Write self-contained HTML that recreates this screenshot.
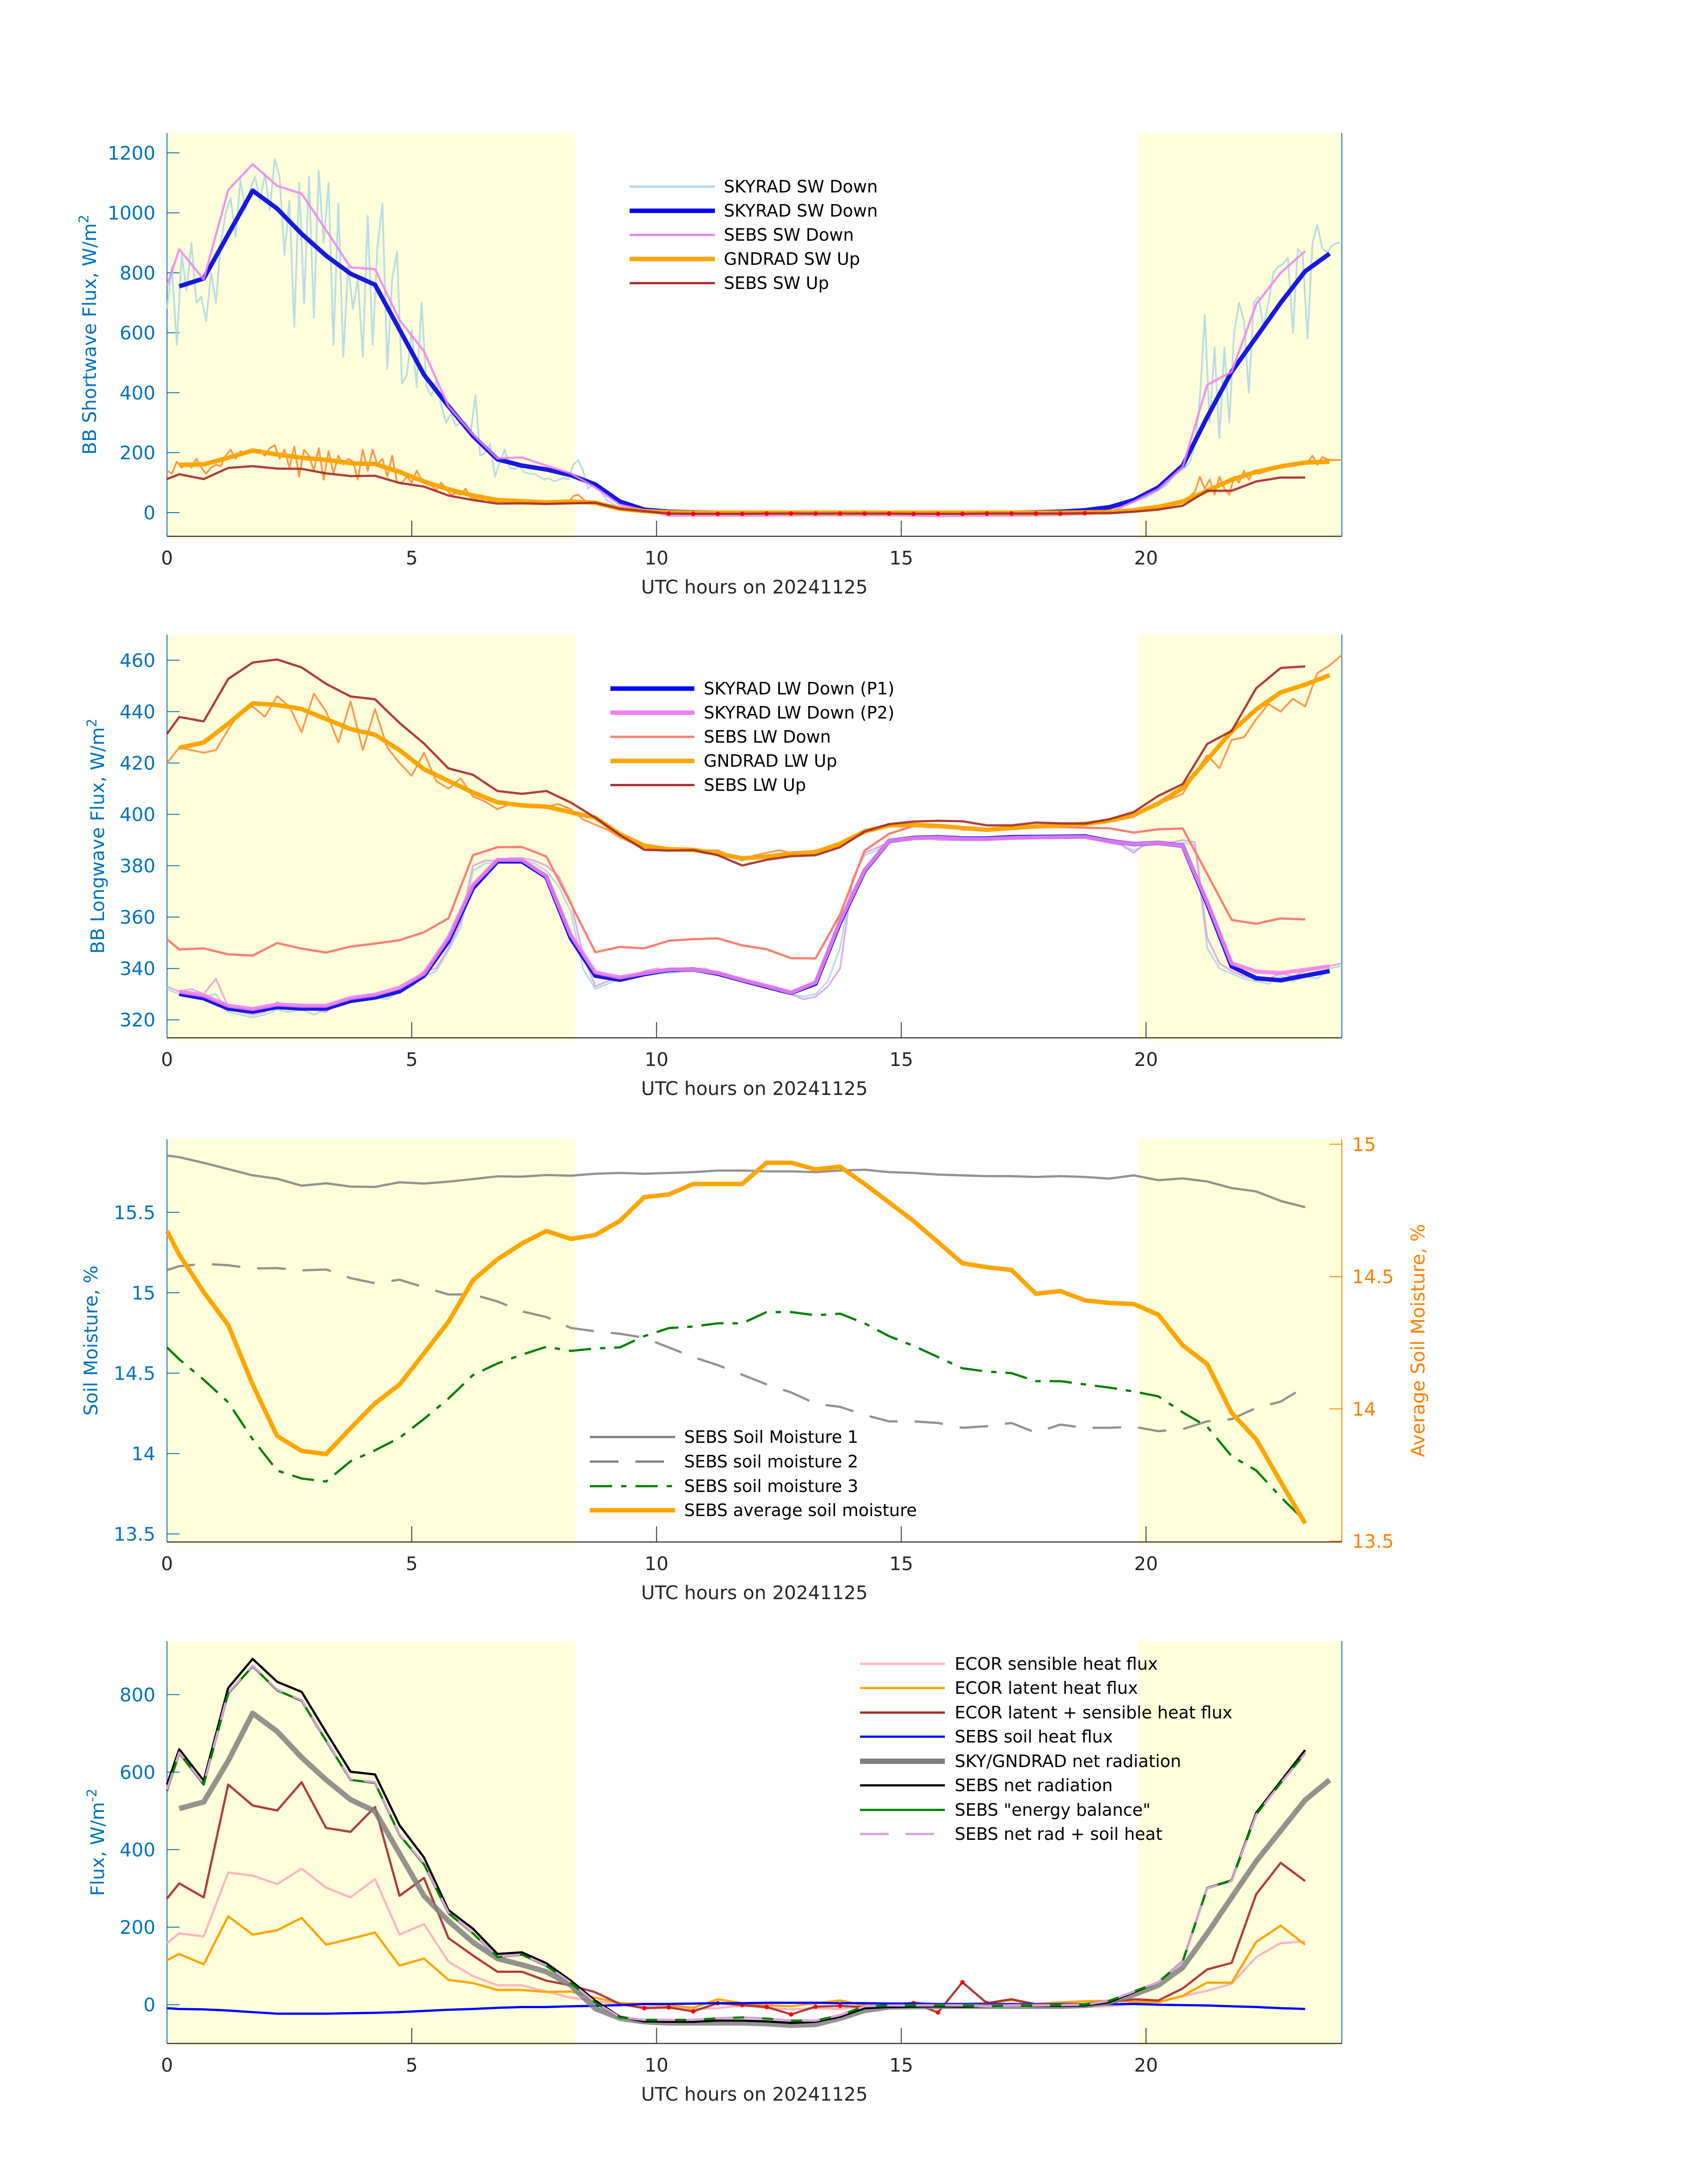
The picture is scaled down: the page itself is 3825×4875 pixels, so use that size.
<!DOCTYPE html>
<html><head><meta charset="utf-8">
<style>
html,body{margin:0;padding:0;background:#fff;}
svg{display:block;font-family:"DejaVu Sans","Liberation Sans",sans-serif;}
</style></head>
<body>
<svg id="chart" xmlns="http://www.w3.org/2000/svg" width="3825" height="4875" viewBox="0 0 3825 4875"></svg>
<script>
// ---------- shared time grids (hours UTC) ----------
function range(a,b,s){const r=[];for(let v=a;v<=b+1e-9;v+=s)r.push(Math.round(v*100)/100);return r;}
const tSebs=[0].concat(range(0.25,23.25,0.5));
const tSky=range(0.25,23.75,0.5);
const tQ=range(0,24,0.25);
const tSwA=range(0,9,0.1), tSwC=range(20,24,0.1);
const tSwB=[9.2,9.5,10,12,15,19,19.5,19.7];
const tUpB=[9.3,9.7,10,19,19.5];
const dayBands=[[0,8.34],[19.84,24]];

// ---------- panel 1: shortwave ----------
const skySwNoisy=[680,820,560,860,740,900,700,720,640,800,700,900,1000,1050,920,1110,1010,1080,1120,1040,1130,1010,1180,1120,860,1040,620,1100,700,1120,650,1140,900,1100,560,1030,520,820,680,780,520,990,560,890,1030,480,780,870,430,460,610,420,700,420,390,440,360,300,330,290,300,300,260,390,190,200,230,120,170,210,150,145,155,135,130,130,120,110,115,105,110,115,110,160,175,140,80,95,90,60,40]
 .concat([20,8,2,1,1,2,20,40])
 .concat([50,60,70,80,90,110,130,140,150,170,230,380,660,300,550,250,550,300,600,700,640,400,700,720,620,700,800,820,830,850,600,880,860,580,900,960,880,870,890,900,900]);
const tSwNoisy=tSwA.concat(tSwB,tSwC);
const skySwDown=[755,781,928,1074,1014,930,857,797,760,611,460,355,256,178,157,144,125,94,37,10,3,1,0,0,0,0,0,0,0,0,0,0,0,0,0,1,3,8,18,42,84,157,319,470,585,700,805,864];
const sebsSwDown=[757,878,778,1076,1162,1090,1064,942,818,812,643,538,355,261,181,184,157,131,84,26,8,-10,-10,-10,-10,-10,-9,-9,-9,-9,-9,-10,-12,-11,-10,-10,-9,-8,-5,0,37,78,152,426,470,695,800,872];
const gndSwNoisy=[140,130,170,150,165,150,180,150,130,150,160,155,190,210,180,205,195,200,205,210,190,215,225,180,210,150,220,120,210,190,140,215,110,205,130,190,160,180,170,110,210,140,210,160,180,120,190,100,100,120,100,140,110,95,90,75,100,80,60,65,60,80,50,45,40,45,40,35,40,35,35,38,40,37,35,36,38,37,35,34,35,36,35,55,60,45,35,33,32,28,20]
 .concat([8,2,0,0,5])
 .concat([15,17,20,24,28,30,35,40,45,55,70,120,80,110,60,120,80,60,120,100,140,110,140,130,135,140,145,150,150,155,158,160,162,165,190,160,185,178,175,176,175]);
const tUpNoisy=tSwA.concat(tUpB,tSwC);
const gndSwUp=[159,161,183,207,194,183,176,165,162,136,104,78,57,42,38,34,37,33,13,5,1,0,0,0,0,0,0,0,0,0,0,0,0,0,0,0,0,1,2,8,19,37,73,110,136,154,167,170];
const sebsSwUp=[112,128,112,149,155,147,146,131,122,123,99,87,57,42,30,31,29,31,33,13,5,-3,-4,-4,-4,-3,-3,-3,-3,-3,-3,-4,-4,-4,-3,-3,-3,-3,-2,-2,3,10,23,73,73,104,117,117];
const p1Ticks=[0,200,400,600,800,1000,1200];

// ---------- panel 2: longwave ----------
const lwNoisyA=[332,330,331,329,330,323,322,321,322,324,323,324,322,324,326,327,328,329,328,331,333,337,339,347,356,378,381,381,382,382,381,378,372,362,340,332,334,336,336,338,339,338,339,340,339,338,336,335,334,333,331,330,329,330,335,348,375,384,386,389,390,391,391,391,390,390,390,390,391,391,391,391,391,391,391,391,390,389,388,386,388,389,388,389,388,348,340,338,336,335,334,337,335,337,336,340,341];
const lwNoisyB=[333,331,332,330,336,325,323,322,323,327,324,326,324,323,327,328,329,330,329,332,334,339,340,348,358,380,382,382,383,383,382,380,376,366,345,333,335,337,337,339,340,339,339,340,340,338,337,335,334,333,331,330,328,329,333,340,374,385,387,389,390,391,391,390,390,390,390,390,391,391,391,391,391,391,391,391,390,389,388,385,389,389,389,390,389,352,342,339,337,336,336,338,337,339,340,341,342];
const skyLwP1=[330.1,328.4,324.4,323.2,325.0,324.4,324.4,327.4,328.7,331.1,337.2,350.6,371.3,381.7,381.7,375.6,351.8,337.2,335.6,337.8,339.4,339.6,338.0,335.4,332.9,330.5,334.1,357.9,378.0,389.6,390.8,391.1,390.6,390.6,391.1,391.2,391.3,391.4,389.6,388.4,388.9,387.8,365.2,340.8,336.2,335.4,337.2,339.0];
const skyLwP2=[331,329.5,325.5,324.2,326,325.5,325.5,328.5,329.8,332.5,338,352,372.5,382.3,382.3,376,353,338.5,336.5,338.2,339.6,339.6,338.3,335.6,333.2,330.6,334.6,358.5,378.3,389.6,390.7,391,390.4,390.4,390.8,391,391.1,391.2,389.5,388.4,388.9,387.8,366,342,338.8,338.2,339.5,340.8];
const sebsLwDown=[351.4,347.4,347.8,345.5,345.0,349.9,347.7,346.2,348.5,349.7,351.0,354.1,359.5,384.1,387.2,387.3,383.6,365.2,346.3,348.4,347.8,350.8,351.4,351.7,349.0,347.5,344.0,343.9,361.0,385.9,392.4,395.5,395.2,394.5,394.1,394.5,395.0,395.1,394.8,394.6,392.9,394.2,394.5,376.8,358.9,357.4,359.5,359.1];
const gndLwNoisy=[420,426,425,424,425,433,440,442,438,446,442,432,447,440,428,444,425,441,426,420,415,424,413,410,414,407,405,402,404,403,403,403,404,402,398,396,394,391,389,386,386,386,386,386,386,386,384,382,384,385,386,385,384,386,387,388,391,394,395,396,396,396,395,395,395,394,394,394,394,395,395,395,395,395,396,396,396.5,397,398,399,402,404,406,408,416,423,418,429,430,437,443,440,445,442,455,458,462];
const gndLwUp=[425.9,428.0,435.3,443.2,442.6,441.0,437.1,433.2,431.0,425.0,417.6,413.0,408.5,404.7,403.5,403.0,400.8,398.7,392.3,387.8,386.4,386.2,384.7,382.9,383.5,384.7,385.3,388.6,393.3,395.7,395.9,395.5,394.7,394.0,394.7,395.3,395.7,396.3,397.5,399.8,404.2,410.3,421.3,432.3,440.8,447.5,450.5,454.2];
const sebsLwUp=[431.3,437.9,436.2,452.7,459.1,460.3,457.2,450.8,445.9,444.8,435.6,427.6,417.9,415.4,409.1,408.0,409.1,404.6,398.7,392.0,386.3,385.9,386.1,384.1,380.1,382.3,383.7,384.1,387.2,393.3,396.2,397.2,397.5,397.3,395.7,395.7,396.8,396.5,396.4,398.1,400.9,407.2,411.8,427.4,432.5,449.1,457.0,457.6];
const p2Ticks=[320,340,360,380,400,420,440,460];

// ---------- panel 3: soil moisture ----------
const sm1=[15.853,15.843,15.808,15.769,15.730,15.709,15.666,15.681,15.660,15.658,15.687,15.679,15.691,15.707,15.724,15.722,15.732,15.728,15.74,15.745,15.74,15.745,15.75,15.76,15.76,15.755,15.755,15.75,15.76,15.765,15.75,15.745,15.735,15.73,15.725,15.725,15.72,15.725,15.72,15.71,15.73,15.70,15.711,15.692,15.651,15.63,15.571,15.532];
const sm2=[15.141,15.165,15.180,15.171,15.151,15.153,15.139,15.145,15.091,15.059,15.081,15.034,14.989,14.989,14.946,14.884,14.849,14.781,14.76,14.745,14.72,14.66,14.6,14.55,14.49,14.43,14.38,14.31,14.29,14.24,14.2,14.2,14.19,14.16,14.17,14.19,14.13,14.18,14.16,14.16,14.167,14.139,14.152,14.2,14.214,14.284,14.323,14.415];
const sm3=[14.66,14.586,14.459,14.319,14.089,13.894,13.845,13.826,13.952,14.02,14.098,14.215,14.342,14.488,14.56,14.615,14.664,14.638,14.654,14.66,14.73,14.78,14.79,14.81,14.81,14.88,14.88,14.86,14.87,14.81,14.73,14.67,14.6,14.53,14.51,14.5,14.45,14.45,14.43,14.41,14.386,14.356,14.256,14.167,13.983,13.895,13.73,13.58];
const smAvg=[14.672,14.583,14.441,14.317,14.092,13.897,13.841,13.829,13.927,14.021,14.092,14.21,14.329,14.486,14.565,14.625,14.672,14.642,14.657,14.71,14.80,14.81,14.85,14.85,14.85,14.93,14.93,14.905,14.915,14.85,14.78,14.71,14.63,14.55,14.535,14.525,14.435,14.445,14.41,14.40,14.396,14.356,14.24,14.169,13.985,13.885,13.725,13.567];
const p3Ticks=[13.5,14,14.5,15,15.5];
const p3TickLabels=["13.5","14","14.5","15","15.5"];
const p3RTicks=[13.5,14,14.5,15];
const p3RTickLabels=["13.5","14","14.5","15"];

// ---------- panel 4: energy flux ----------
const ecorSens=[159,184,176,341,333,311,351,302,277,324,181,208,111,74,50,50,34,18,10,-1,-4,-6,-11,-9,-2,-8,-12,-9,-11,-4,-4,-4,-6,-5,-4,-1,-2,-6,-6,-4,4,7,22,36,54,123,159,163];
const ecorLat=[115,131,104,228,181,192,224,155,170,186,101,119,64,56,38,38,33,34,18,4,2,-1,-8,14,4,-1,-4,4,11,-2,-4,6,-2,2,4,12,2,6,9,10,8,6,23,57,57,162,204,155];
const ecorLS=[274,313,277,568,514,501,574,456,446,510,281,327,172,127,85,85,62,50,32,2,-9,-7,-17,4,-1,-6,-25,-5,-3,-6,-2,4,-20,58,4,14,1,2,2,7,14,11,42,91,108,285,366,319];
const soilHeat=[-9,-11,-12,-15,-19,-23,-23,-23,-22,-21,-19,-16,-13,-11,-8,-6,-6,-4,-3,-1,2,2,3,4,4,5,5,5,4,4,3,3,2,2,2,2,1,1,1,1,2,0,-1,-2,-4,-6,-9,-11];
const skyNet=[506,523,629,752,705,638,580,529,499,390,281,216,161,119,103,85,50,-10,-35,-44,-47,-47,-47,-47,-49,-53,-51,-35,-15,-6,-5,-4,-4,-4,-4,-4,-4,-2,6,26,50,96,184,277,370,449,528,580];
const sebsNet=[568,659,578,817,892,833,807,703,601,594,463,380,244,196,131,135,107,62,10,-31,-43,-44,-44,-41,-41,-43,-47,-44,-31,-9,-6,-5,-4,-5,-4,-2,-3,-3,-2,7,32,58,112,301,321,495,576,657];
const sebsEB=[552,649,568,803,873,811,784,681,580,572,438,362,236,184,123,129,100,56,5,-33,-39,-39,-39,-35,-33,-36,-41,-41,-27,-4,-2,-2,-2,-2,-4,-2,-2,-1,0,10,34,58,111,301,320,491,572,649];
const sebsNetSoil=[555,651,570,805,875,813,786,683,582,574,440,364,238,185,124,130,101,57,6,-32,-39,-39,-39,-35,-33,-36,-41,-41,-27,-4,-2,-2,-2,-2,-4,-2,-2,-1,0,10,34,58,111,300,319,490,571,648];
const p4Ticks=[0,200,400,600,800];

// ---------- drawing ----------
const svg=document.getElementById('chart');
const NS='http://www.w3.org/2000/svg';
const AX_L=374, AX_R=3005, XMAX=24;
function X(h){return AX_L+h*(AX_R-AX_L)/XMAX;}
function mk(tag,attrs,parent){const e=document.createElementNS(NS,tag);for(const k in attrs)e.setAttribute(k,attrs[k]);(parent||svg).appendChild(e);return e;}
function yScale(top,bot,lo,hi){return v=>bot-(v-lo)*(bot-top)/(hi-lo);}

function line(g,ts,vs,Y,style,name){
  let d='';for(let i=0;i<ts.length&&i<vs.length;i++){d+=(i?'L':'M')+X(ts[i]).toFixed(1)+' '+Y(vs[i]).toFixed(1);}
  const p=mk('path',Object.assign({d:d,fill:'none','stroke-linejoin':'round','stroke-linecap':'butt'},style),g);
  
  
  return p;
}
function dots(g,ts,vs,Y,t0,t1,name){
  for(let i=0;i<ts.length;i++){if(ts[i]<t0||ts[i]>t1)continue;
    const c=mk('circle',{cx:X(ts[i]),cy:Y(vs[i]),r:5,fill:'#ff0000'},g);
    
    }
}

function panel(cfg){
  const g=mk('g',{});
  
  
  const Y=yScale(cfg.top,cfg.bot,cfg.lo,cfg.hi);
  dayBands.forEach(b=>{
    const r=mk('rect',{x:X(b[0]),y:cfg.top,width:X(b[1])-X(b[0]),height:cfg.bot-cfg.top+6,fill:'#ffffdb'},g);
    
    
  });
  // axes spines
  const ls=mk('line',{x1:AX_L,y1:cfg.top,x2:AX_L,y2:cfg.bot,stroke:'#0072bd','stroke-width':2},g);
  
  
  const rs=mk('line',{x1:AX_R,y1:cfg.top,x2:AX_R,y2:cfg.bot,stroke:cfg.rightColor||'#0072bd','stroke-width':2},g);
  
  
  const bs=mk('line',{x1:AX_L,y1:cfg.bot,x2:AX_R,y2:cfg.bot,stroke:'#333333','stroke-width':2.5},g);
  
  
  // y ticks
  cfg.ticks.forEach((v,i)=>{
    const y=Y(v);
    const t=mk('line',{x1:AX_L,y1:y,x2:AX_L+28,y2:y,stroke:'#0072bd','stroke-width':2},g);
    
    
    const tx=mk('text',{x:348,y:y+15,'text-anchor':'end','font-size':42,fill:'#0072bd'},g);
    tx.textContent=cfg.tickLabels?cfg.tickLabels[i]:String(v);
    
    
  });
  // x ticks
  [0,5,10,15,20].forEach(h=>{
    if(h>0){const t=mk('line',{x1:X(h),y1:cfg.bot,x2:X(h),y2:cfg.bot-35,stroke:'#333333','stroke-width':2},g);
    
    }
    const tx=mk('text',{x:X(h),y:cfg.bot+63,'text-anchor':'middle','font-size':42,fill:'#262626'},g);
    tx.textContent=String(h);
    
    
  });
  const xl=mk('text',{x:(AX_L+AX_R)/2,y:cfg.bot+128,'text-anchor':'middle','font-size':42,fill:'#262626'},g);
  xl.textContent='UTC hours on 20241125';
  
  
  const cy=(cfg.top+cfg.bot)/2;
  const yl=mk('text',{x:0,y:0,'text-anchor':'middle','font-size':42,fill:'#0072bd',transform:`translate(${cfg.ylabX},${cy}) rotate(-90)`},g);
  yl.textContent=cfg.ylabel;
  if(cfg.ysup){const s=mk('tspan',{'baseline-shift':'super','font-size':30},yl);s.textContent=cfg.ysup;}
  
  
  return {g,Y};
}
function legend(g,x0,x1,tx,rows){
  rows.forEach(r=>{
    const l=mk('line',Object.assign({x1:x0,y1:r.y,x2:x1,y2:r.y,fill:'none'},r.style),g);
    
    
    const t=mk('text',{x:tx,y:r.y+13,'font-size':38,fill:'#000'},g);
    t.textContent=r.label;
    
    
  });
}

// Panel 1
(function(){
  const P=panel({name:'shortwave-panel',top:298,bot:1201,lo:-79,hi:1266,ticks:p1Ticks,ylabX:215,ylabel:'BB Shortwave Flux, W/m',ysup:'2'});
  const g=P.g,Y=P.Y;
  line(g,tSwNoisy,skySwNoisy,Y,{stroke:'#add8e6','stroke-width':4,opacity:0.85},'skyrad-sw-down-1min');
  line(g,tSky,skySwDown,Y,{stroke:'#1818e0','stroke-width':10},'skyrad-sw-down-avg');
  line(g,tSebs,sebsSwDown,Y,{stroke:'#ee82ee','stroke-width':5,opacity:0.85},'sebs-sw-down');
  line(g,tUpNoisy,gndSwNoisy,Y,{stroke:'#ff8c3a','stroke-width':4,opacity:0.9},'gndrad-sw-up-1min');
  line(g,tSky,gndSwUp,Y,{stroke:'#ffa500','stroke-width':10},'gndrad-sw-up-avg');
  line(g,tSebs,sebsSwUp,Y,{stroke:'#a52a2a','stroke-width':5,opacity:0.9},'sebs-sw-up');
  dots(g,tSebs,sebsSwUp,Y,10,19,'sebs-sw-up-night-point');
  legend(g,1410,1601,1621,[
    {y:418,label:'SKYRAD SW Down',style:{stroke:'#add8e6','stroke-width':5}},
    {y:472,label:'SKYRAD SW Down',style:{stroke:'#0000ff','stroke-width':10}},
    {y:526,label:'SEBS SW Down',style:{stroke:'#ee82ee','stroke-width':5}},
    {y:580,label:'GNDRAD SW Up',style:{stroke:'#ffa500','stroke-width':10}},
    {y:634,label:'SEBS SW Up',style:{stroke:'#a52a2a','stroke-width':5}}]);
})();

// Panel 2
(function(){
  const P=panel({name:'longwave-panel',top:1421,bot:2324,lo:313,hi:470,ticks:p2Ticks,ylabX:233,ylabel:'BB Longwave Flux, W/m',ysup:'2'});
  const g=P.g,Y=P.Y;
  line(g,tQ,lwNoisyA,Y,{stroke:'#add8e6','stroke-width':4,opacity:0.85},'skyrad-lw-down-p1-1min');
  line(g,tQ,lwNoisyB,Y,{stroke:'#dda0dd','stroke-width':4,opacity:0.85},'skyrad-lw-down-p2-1min');
  line(g,tSky,skyLwP1,Y,{stroke:'#1818e0','stroke-width':10},'skyrad-lw-down-p1');
  line(g,tSky,skyLwP2,Y,{stroke:'#ee82ee','stroke-width':9,opacity:0.9},'skyrad-lw-down-p2');
  line(g,tSebs,sebsLwDown,Y,{stroke:'#fa8072','stroke-width':5},'sebs-lw-down');
  line(g,tQ,gndLwNoisy,Y,{stroke:'#ff8c3a','stroke-width':4,opacity:0.9},'gndrad-lw-up-1min');
  line(g,tSky,gndLwUp,Y,{stroke:'#ffa500','stroke-width':10},'gndrad-lw-up');
  line(g,tSebs,sebsLwUp,Y,{stroke:'#a52a2a','stroke-width':5,opacity:0.9},'sebs-lw-up');
  legend(g,1367,1555,1576,[
    {y:1542,label:'SKYRAD LW Down (P1)',style:{stroke:'#0000ff','stroke-width':10}},
    {y:1596,label:'SKYRAD LW Down (P2)',style:{stroke:'#ee82ee','stroke-width':10}},
    {y:1650,label:'SEBS LW Down',style:{stroke:'#fa8072','stroke-width':5}},
    {y:1704,label:'GNDRAD LW Up',style:{stroke:'#ffa500','stroke-width':10}},
    {y:1758,label:'SEBS LW Up',style:{stroke:'#a52a2a','stroke-width':5}}]);
})();

// Panel 3
(function(){
  const P=panel({name:'soil-moisture-panel',top:2551,bot:3453,lo:13.45,hi:15.955,ticks:p3Ticks,tickLabels:p3TickLabels,ylabX:218,ylabel:'Soil Moisture, %',rightColor:'#ff8000'});
  const g=P.g,Y=P.Y;
  const YR=yScale(2551,3453,13.497,15.019);
  p3RTicks.forEach((v,i)=>{
    const y=YR(v);
    const t=mk('line',{x1:AX_R-28,y1:y,x2:AX_R,y2:y,stroke:'#ff8000','stroke-width':2},g);
    
    
    const tx=mk('text',{x:3028,y:y+15,'font-size':42,fill:'#ff8000'},g);
    tx.textContent=p3RTickLabels[i];
    
    
  });
  const rl=mk('text',{x:0,y:0,'text-anchor':'middle','font-size':42,fill:'#ff8000',transform:`translate(3190,3002) rotate(-90)`},g);
  rl.textContent='Average Soil Moisture, %';
  
  
  line(g,tSebs,sm1,Y,{stroke:'#808080','stroke-width':5,opacity:0.85},'sebs-soil-moisture-1');
  line(g,tSebs,sm2,Y,{stroke:'#808080','stroke-width':5,opacity:0.85,'stroke-dasharray':'64 38'},'sebs-soil-moisture-2');
  line(g,tSebs,sm3,Y,{stroke:'#008000','stroke-width':5,'stroke-dasharray':'50 20 12 20'},'sebs-soil-moisture-3');
  line(g,tSebs,smAvg,YR,{stroke:'#ffa500','stroke-width':10},'sebs-average-soil-moisture');
  legend(g,1321,1512,1532,[
    {y:3218,label:'SEBS Soil Moisture 1',style:{stroke:'#808080','stroke-width':5}},
    {y:3273,label:'SEBS soil moisture 2',style:{stroke:'#808080','stroke-width':5,'stroke-dasharray':'64 38'}},
    {y:3328,label:'SEBS soil moisture 3',style:{stroke:'#008000','stroke-width':5,'stroke-dasharray':'50 20 12 20'}},
    {y:3382,label:'SEBS average soil moisture',style:{stroke:'#ffa500','stroke-width':10}}]);
})();

// Panel 4
(function(){
  const P=panel({name:'energy-flux-panel',top:3675,bot:4576,lo:-100,hi:938,ticks:p4Ticks,ylabX:233,ylabel:'Flux, W/m',ysup:'-2'});
  const g=P.g,Y=P.Y;
  line(g,tSebs,ecorSens,Y,{stroke:'#ffb6c1','stroke-width':5},'ecor-sensible-heat-flux');
  line(g,tSebs,ecorLat,Y,{stroke:'#ffa500','stroke-width':5},'ecor-latent-heat-flux');
  line(g,tSebs,ecorLS,Y,{stroke:'#a52a2a','stroke-width':5,opacity:0.9},'ecor-latent-plus-sensible');
  dots(g,tSebs,ecorLS,Y,9.5,17,'ecor-night-point');
  line(g,tSebs,soilHeat,Y,{stroke:'#0000ff','stroke-width':5},'sebs-soil-heat-flux');
  line(g,tSky,skyNet,Y,{stroke:'#808080','stroke-width':12,opacity:0.85},'sky-gndrad-net-radiation');
  line(g,tSebs,sebsNet,Y,{stroke:'#000000','stroke-width':5},'sebs-net-radiation');
  line(g,tSebs,sebsEB,Y,{stroke:'#008000','stroke-width':5},'sebs-energy-balance');
  line(g,tSebs,sebsNetSoil,Y,{stroke:'#dda0dd','stroke-width':5,'stroke-dasharray':'40 25'},'sebs-net-rad-plus-soil-heat');
  legend(g,1926,2116,2138,[
    {y:3726,label:'ECOR sensible heat flux',style:{stroke:'#ffb6c1','stroke-width':5}},
    {y:3780,label:'ECOR latent heat flux',style:{stroke:'#ffa500','stroke-width':5}},
    {y:3835,label:'ECOR latent + sensible heat flux',style:{stroke:'#a52a2a','stroke-width':5}},
    {y:3889,label:'SEBS soil heat flux',style:{stroke:'#0000ff','stroke-width':5}},
    {y:3944,label:'SKY/GNDRAD net radiation',style:{stroke:'#808080','stroke-width':12}},
    {y:3998,label:'SEBS net radiation',style:{stroke:'#000000','stroke-width':5}},
    {y:4053,label:'SEBS "energy balance"',style:{stroke:'#008000','stroke-width':5}},
    {y:4107,label:'SEBS net rad + soil heat',style:{stroke:'#dda0dd','stroke-width':5,'stroke-dasharray':'64 38'}}]);
})();
</script>
</body></html>
